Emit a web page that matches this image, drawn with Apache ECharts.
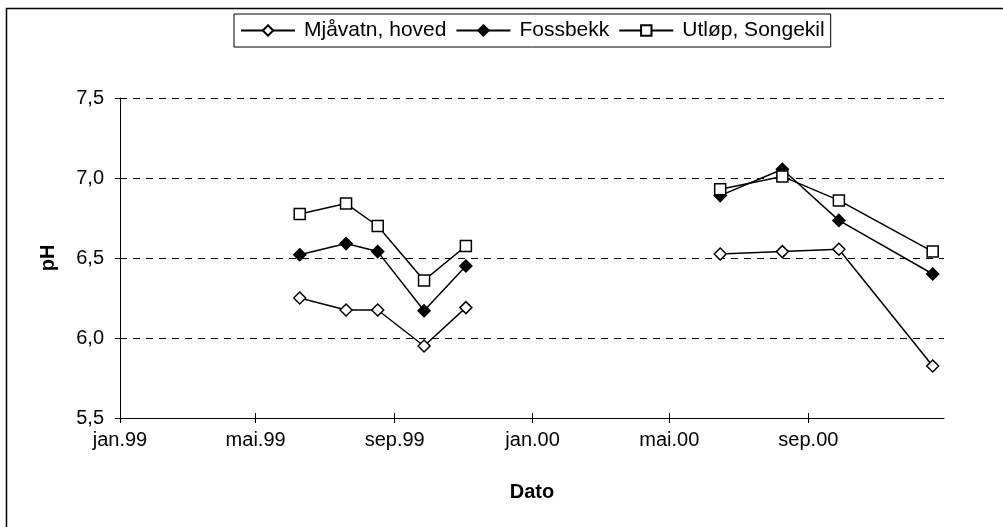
<!DOCTYPE html>
<html>
<head>
<meta charset="utf-8">
<script src="https://cdn.jsdelivr.net/npm/echarts@6/dist/echarts.min.js"></script>
<style>
html,body{margin:0;padding:0;background:#fff;}
#c{width:1003px;height:527px;}
</style>
</head>
<body>
<div id="c"></div>
<script>
// ---- data ----
const sampleDates = ['1999-06-09','1999-07-20','1999-08-17','1999-09-27','1999-11-03', null,
                     '2000-06-15','2000-08-09','2000-09-28','2000-12-20'];
const mjavatn  = [6.25, 6.175, 6.175, 5.95, 6.19, null, 6.525, 6.54, 6.555, 5.825];
const fossbekk = [6.52, 6.59, 6.54, 6.17, 6.45, null, 6.89, 7.055, 6.735, 6.40];
const utlop    = [6.775, 6.84, 6.70, 6.36, 6.575, null, 6.93, 7.01, 6.86, 6.54];
const seriesNames = ['Mjåvatn, hoved', 'Fossbekk', 'Utløp, Songekil'];
const tickDates = ['1999-01-01','1999-05-01','1999-09-01','2000-01-01','2000-05-01','2000-09-01'];
const tickLabels = ['jan.99','mai.99','sep.99','jan.00','mai.00','sep.00'];
const axisStart = '1999-01-01';
const axisEnd = '2000-12-30';

// ---- helpers ----
function dayNum(s){
  const p = s.split('-').map(Number);
  const o = axisStart.split('-').map(Number);
  return Math.round((Date.UTC(p[0],p[1]-1,p[2]) - Date.UTC(o[0],o[1]-1,o[2]))/86400000);
}
function toData(vals){
  return vals.map((v,i)=> (v==null || sampleDates[i]==null) ? ['-','-'] : [dayNum(sampleDates[i]), v]);
}
const tickDays = tickDates.map(dayNum);
const labelMap = {};
tickDays.forEach((d,i)=>{ labelMap[d] = tickLabels[i]; });

const FONT = '"Liberation Sans", Arial, sans-serif';
const chart = echarts.init(document.getElementById('c'), null, {renderer:'canvas'});

function mkSeries(name, data, symbol, fill){
  return {
    name: name, type: 'line', data: data,
    xAxisIndex: 0, yAxisIndex: 0,
    symbol: symbol, symbolSize: symbol === 'rect' ? 11 : 12,
    showAllSymbol: true, connectNulls: false,
    lineStyle: {color:'#000', width:1.5},
    itemStyle: {color: fill, borderColor:'#000', borderWidth:1.5},
    emphasis: {disabled:true},
    animation: false, z: 3
  };
}

const option = {
  animation: false,
  textStyle: {fontFamily: FONT, color:'#000'},
  grid: {left:120, right:59, top:98, bottom:109, containLabel:false},
  legend: {
    left: 234, top: 14,
    orient: 'horizontal',
    borderColor: '#000', borderWidth: 1,
    padding: [6, 6, 6, 6],
    itemGap: 9, itemWidth: 54, itemHeight: 13,
    textStyle: {fontFamily: FONT, fontSize: 21, color:'#000', padding:[0,0,0,4]},
    data: seriesNames
  },
  xAxis: [{
    type: 'value', min: 0, max: dayNum(axisEnd),
    position: 'bottom',
    name: 'Dato', nameLocation: 'middle', nameGap: 64,
    nameTextStyle: {fontFamily: FONT, fontSize: 20, fontWeight: 'bold', color:'#000'},
    axisLine: {show:true, lineStyle:{color:'#000', width:1}},
    axisTick: {show:true, inside:false, length:5, customValues: tickDays, lineStyle:{color:'#000'}},
    axisLabel: {show:true, margin: 12, fontFamily: FONT, fontSize: 20, color:'#000',
      customValues: tickDays, formatter: v => labelMap[v] || ''},
    splitLine: {show:false}
  },{
    type: 'value', min: 0, max: dayNum(axisEnd),
    position: 'bottom',
    axisLine: {show:false},
    axisTick: {show:true, inside:true, length:5, customValues: tickDays, lineStyle:{color:'#000'}},
    axisLabel: {show:false},
    splitLine: {show:false}
  }],
  yAxis: [{
    type: 'value', min: 5.5, max: 7.5, interval: 0.5,
    position: 'left',
    name: 'pH', nameLocation: 'middle', nameGap: 62, nameRotate: 90,
    nameTextStyle: {fontFamily: FONT, fontSize: 20, fontWeight: 'bold', color:'#000'},
    axisLine: {show:true, lineStyle:{color:'#000', width:1}},
    axisTick: {show:true, inside:false, length:5, lineStyle:{color:'#000'}},
    axisLabel: {margin: 16, fontFamily: FONT, fontSize: 20, color:'#000',
      formatter: v => v.toFixed(1).replace('.', ',')},
    splitLine: {show:true, lineStyle:{color:'#000', width:1, type:[7,6]}}
  },{
    type: 'value', min: 5.5, max: 7.5, interval: 0.5,
    position: 'left',
    axisLine: {show:false},
    axisTick: {show:true, inside:true, length:4, lineStyle:{color:'#000'}},
    axisLabel: {show:false},
    splitLine: {show:false}
  }],
  graphic: [{
    type: 'rect', silent: true, z: 100,
    shape: {x: 6.5, y: 8.5, width: 1100, height: 600},
    style: {fill: 'none', stroke: '#000', lineWidth: 1.5}
  }],
  series: [
    mkSeries(seriesNames[0], toData(mjavatn), 'diamond', '#fff'),
    mkSeries(seriesNames[1], toData(fossbekk), 'diamond', '#000'),
    mkSeries(seriesNames[2], toData(utlop), 'rect', '#fff')
  ]
};
chart.setOption(option);
</script>
</body>
</html>
